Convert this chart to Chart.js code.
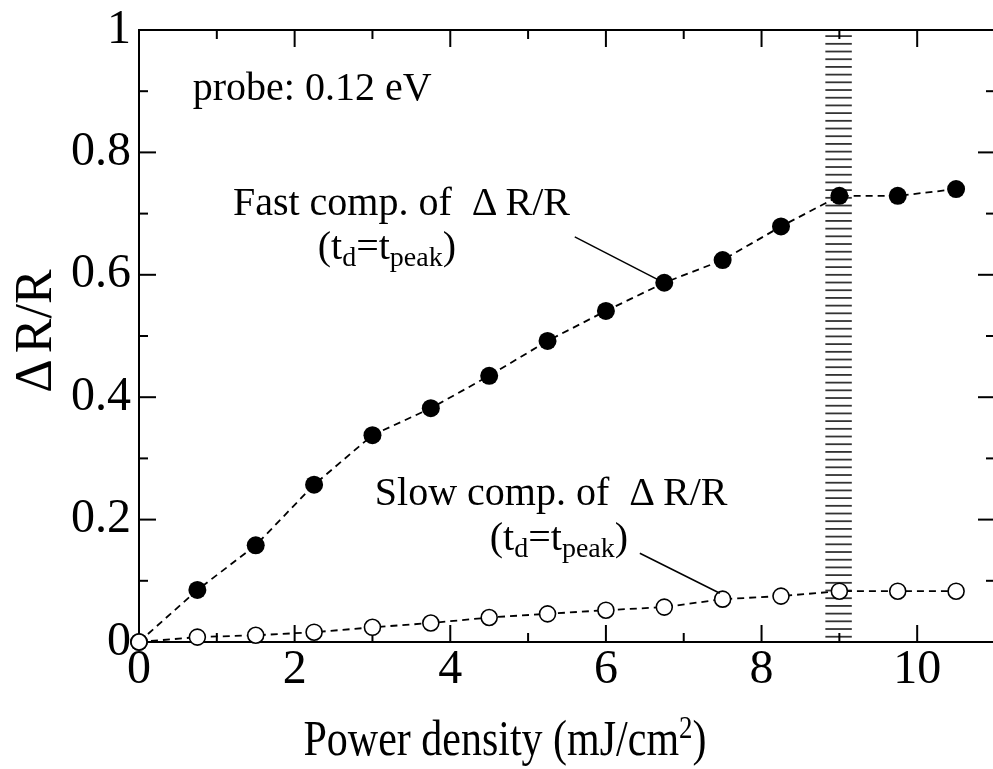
<!DOCTYPE html>
<html><head><meta charset="utf-8">
<script src="https://cdn.jsdelivr.net/npm/chart.js@4/dist/chart.umd.min.js"></script>
<style>html,body{margin:0;padding:0;background:#fff;overflow:hidden;} #wrap{width:1000px;height:769px;overflow:hidden;position:relative;} canvas{display:block;}</style>
</head><body><div id="wrap"><canvas id="c" width="1000" height="769" style="width:1000px;height:769px"></canvas></div>
<script>
const powerDensity = [0, 0.75, 1.5, 2.25, 3, 3.75, 4.5, 5.25, 6, 6.75, 7.5, 8.25, 9, 9.75, 10.5];
const fastComp = [0, 0.085, 0.158, 0.257, 0.338, 0.382, 0.435, 0.492, 0.541, 0.587, 0.624, 0.679, 0.729, 0.729, 0.740];
const slowComp = [0, 0.008, 0.011, 0.016, 0.024, 0.031, 0.040, 0.046, 0.052, 0.057, 0.070, 0.075, 0.083, 0.083, 0.083];
const xTickValues = [0, 2, 4, 6, 8, 10];
const xTickLabels = ['0', '2', '4', '6', '8', '10'];
const yTickValues = [0, 0.2, 0.4, 0.6, 0.8, 1];
const yTickLabels = ['0', '0.2', '0.4', '0.6', '0.8', '1'];
const xMinorValues = [1, 3, 5, 7, 9];
const yMinorValues = [0.1, 0.3, 0.5, 0.7, 0.9];
const bandX = [8.82, 9.16];
const bandY = [0, 0.99];

const SERIF = '"Liberation Serif", "Times New Roman", serif';

function drawRich(ctx, x, y, segs, align, sx) {
  sx = sx || 1;
  let w = 0;
  segs.forEach(s => { ctx.font = s.size + 'px ' + SERIF; s.w = ctx.measureText(s.t).width + (s.gap || 0); w += s.w; });
  ctx.save();
  ctx.translate(x, y);
  ctx.scale(sx, 1);
  let cx = align === 'center' ? -w / 2 : 0;
  ctx.textBaseline = 'alphabetic';
  ctx.textAlign = 'left';
  ctx.fillStyle = '#000';
  segs.forEach(s => { ctx.font = s.size + 'px ' + SERIF; ctx.fillText(s.t, cx, s.dy || 0); cx += s.w; });
  ctx.restore();
}

const framePlugin = {
  id: 'frame',
  beforeDatasetsDraw(chart) {
    const { ctx, chartArea: a, scales: { x, y } } = chart;
    ctx.save();
    // hatched band
    const bx0 = x.getPixelForValue(bandX[0]), bx1 = x.getPixelForValue(bandX[1]);
    const byTop = y.getPixelForValue(bandY[1]), byBot = y.getPixelForValue(bandY[0]);
    ctx.strokeStyle = '#333';
    ctx.lineWidth = 1.8;
    for (let yy = byTop; yy < byBot - 2; yy += 7.7) {
      ctx.beginPath(); ctx.moveTo(bx0, yy); ctx.lineTo(bx1, yy); ctx.stroke();
    }
    // frame
    ctx.strokeStyle = '#000';
    ctx.lineWidth = 2;
    ctx.strokeRect(a.left, a.top, a.right - a.left, a.bottom - a.top);
    const tick = (px, py, dx, dy) => { ctx.beginPath(); ctx.moveTo(px, py); ctx.lineTo(px + dx, py + dy); ctx.stroke(); };
    xTickValues.forEach(v => { const p = x.getPixelForValue(v); tick(p, a.bottom, 0, -17); tick(p, a.top, 0, 17); });
    yTickValues.forEach(v => { const p = y.getPixelForValue(v); tick(a.left, p, 17, 0); tick(a.right, p, -17, 0); });
    xMinorValues.forEach(v => { const p = x.getPixelForValue(v); tick(p, a.bottom, 0, -9); tick(p, a.top, 0, 9); });
    yMinorValues.forEach(v => { const p = y.getPixelForValue(v); tick(a.left, p, 9, 0); tick(a.right, p, -9, 0); });
    ctx.restore();
  },
  afterDatasetsDraw(chart) {
    const { ctx, scales: { x, y } } = chart;
    const X = v => x.getPixelForValue(v), Y = v => y.getPixelForValue(v);
    ctx.save();
    ctx.strokeStyle = '#000';
    ctx.lineWidth = 1.5;
    ctx.beginPath(); ctx.moveTo(X(5.60), Y(0.662)); ctx.lineTo(X(6.655), Y(0.593)); ctx.stroke();
    ctx.beginPath(); ctx.moveTo(X(6.436), Y(0.145)); ctx.lineTo(X(7.464), Y(0.0796)); ctx.stroke();
    ctx.restore();
    drawRich(ctx, X(0.69), Y(0.886), [{ t: 'probe: 0.12 eV', size: 40 }], 'left');
    drawRich(ctx, X(1.207), Y(0.698), [{ t: 'Fast comp. of  ', size: 40 }, { t: 'Δ', size: 40, gap: 8 }, { t: 'R/R', size: 40 }], 'left');
    drawRich(ctx, X(2.297), Y(0.626), [{ t: '(t', size: 40 }, { t: 'd', size: 28, dy: 7 }, { t: '=t', size: 40 }, { t: 'peak', size: 28, dy: 7 }, { t: ')', size: 40 }], 'left');
    drawRich(ctx, X(3.03), Y(0.224), [{ t: 'Slow comp. of  ', size: 40 }, { t: 'Δ', size: 40, gap: 8 }, { t: 'R/R', size: 40 }], 'left');
    drawRich(ctx, X(4.508), Y(0.150), [{ t: '(t', size: 40 }, { t: 'd', size: 28, dy: 7 }, { t: '=t', size: 40 }, { t: 'peak', size: 28, dy: 7 }, { t: ')', size: 40 }], 'left');
  },
  afterDraw(chart) {
    const ctx = chart.ctx;
    // x axis title
    drawRich(ctx, 505, 755, [{ t: 'Power density (mJ/cm', size: 50 }, { t: '2', size: 32, dy: -17 }, { t: ')', size: 50 }], 'center', 0.84);
    // y axis title
    ctx.save();
    ctx.translate(51, 331);
    ctx.rotate(-Math.PI / 2);
    drawRich(ctx, 0, 0, [{ t: 'Δ', size: 52, gap: 6 }, { t: 'R/R', size: 52 }], 'center');
    ctx.restore();
  }
};

const ctx = document.getElementById('c').getContext('2d');
new Chart(ctx, {
  type: 'line',
  data: {
    datasets: [
      {
        label: 'Slow comp.',
        data: powerDensity.map((v, i) => ({ x: v, y: slowComp[i] })),
        borderColor: '#000', borderWidth: 1.8, borderDash: [7, 5],
        pointRadius: 8, pointBackgroundColor: '#fff', pointBorderColor: '#000', pointBorderWidth: 1.6,
        fill: false, tension: 0, clip: false
      },
      {
        label: 'Fast comp.',
        data: powerDensity.map((v, i) => ({ x: v, y: fastComp[i] })),
        borderColor: '#000', borderWidth: 1.8, borderDash: [7, 5],
        pointRadius: 9, pointBackgroundColor: '#000', pointBorderColor: '#000', pointBorderWidth: 0,
        fill: false, tension: 0, clip: false
      }
    ]
  },
  options: {
    responsive: false,
    animation: false,
    devicePixelRatio: 1,
    layout: { autoPadding: false, padding: { top: 30, right: 5, left: 0, bottom: 0 } },
    plugins: { legend: { display: false }, tooltip: { enabled: false } },
    scales: {
      x: {
        type: 'linear', min: 0, max: 11,
        afterBuildTicks: s => { s.ticks = xTickValues.map(v => ({ value: v })); },
        afterFit: s => { s.height = 127; s.paddingLeft = 0; s.paddingRight = 0; s.paddingTop = 0; s.paddingBottom = 0; },
        ticks: { color: '#000', font: { family: SERIF, size: 48 }, padding: 0,
          callback: (v) => xTickLabels[xTickValues.indexOf(v)] ?? '' },
        grid: { display: false, drawTicks: false },
        border: { display: false }
      },
      y: {
        type: 'linear', min: 0, max: 1,
        afterBuildTicks: s => { s.ticks = yTickValues.map(v => ({ value: v })); },
        afterFit: s => { s.width = 139; s.paddingLeft = 0; s.paddingRight = 0; s.paddingTop = 0; s.paddingBottom = 0; },
        ticks: { color: '#000', font: { family: SERIF, size: 48 }, padding: 8,
          callback: (v) => { const i = yTickValues.findIndex(t => Math.abs(t - v) < 1e-9); return i >= 0 ? yTickLabels[i] : ''; } },
        grid: { display: false, drawTicks: false },
        border: { display: false }
      }
    }
  },
  plugins: [framePlugin]
});
</script>
</body></html>
